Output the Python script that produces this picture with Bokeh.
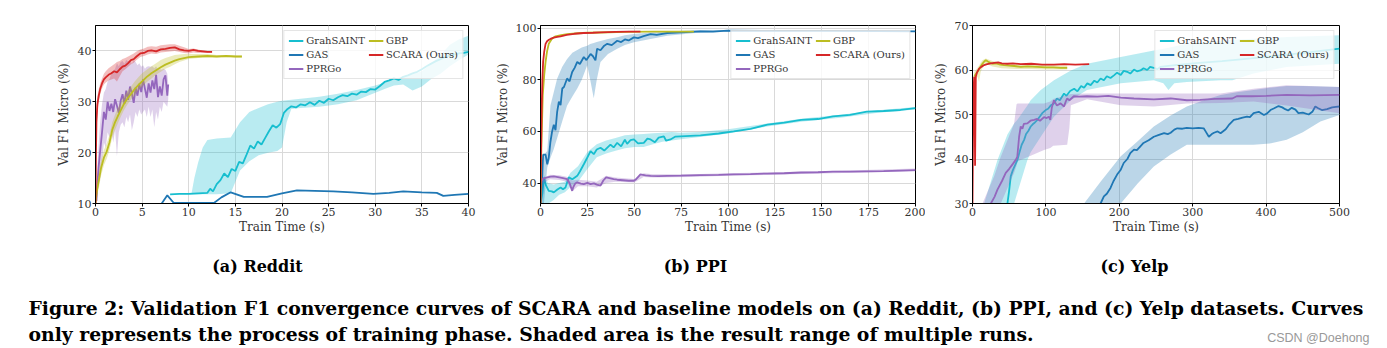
from bokeh.plotting import figure
from bokeh.layouts import column, row
from bokeh.models import Range1d, Legend, LegendItem, FixedTicker
from bokeh.embed import file_html
from bokeh.resources import INLINE
from bokeh.core.properties import value

NAMES = ["GrahSAINT", "GAS", "PPRGo", "GBP", "SCARA (Ours)"]
COLORS = ["#17becf", "#1f77b4", "#9467bd", "#bcbd22", "#d62728"]

# ---------------- Reddit ----------------
rd_grah_x = [8.0, 9.0, 10.0, 11.0, 12.0, 12.3, 12.6, 13.0, 13.4, 13.8, 14.2, 14.6, 15.0, 15.4, 15.8, 16.2, 16.6, 17.0, 17.4, 17.8, 18.2, 18.6, 19.0, 19.4, 19.8, 20.2, 20.6, 21.0, 21.5, 22.0, 22.5, 23.0, 23.5, 24.0, 24.5, 25.0, 25.5, 26.0, 26.5, 27.0, 27.5, 28.0, 28.5, 29.0, 29.5, 30.0, 30.5, 31.0, 31.5, 32.0, 32.5, 33.0, 33.5, 34.0, 34.5, 35.0, 35.5, 36.0, 36.5, 37.0, 37.5, 38.0, 38.5, 39.0, 39.5, 40.0]
rd_grah_y = [11.8, 11.9, 11.9, 12.0, 12.1, 12.9, 12.4, 13.8, 14.6, 15.9, 15.2, 16.8, 16.4, 18.2, 17.9, 19.6, 21.4, 20.8, 22.2, 21.6, 22.9, 24.2, 25.4, 24.9, 25.6, 27.8, 28.6, 29.1, 28.9, 29.5, 29.3, 29.9, 29.4, 30.2, 29.8, 30.6, 30.3, 30.9, 31.3, 31.1, 31.6, 31.4, 32.0, 31.9, 32.5, 32.4, 33.1, 33.9, 34.2, 34.6, 34.3, 34.9, 35.2, 35.6, 35.9, 36.4, 37.0, 37.5, 38.0, 38.4, 38.8, 39.1, 39.3, 39.5, 39.6, 39.8]
rd_grah_bx = [8.0, 10.3, 10.6, 11.0, 11.5, 12.0, 13.0, 14.5, 15.5, 16.5, 17.5, 18.5, 19.5, 20.0, 20.5, 21.0, 22.0, 24.0, 26.0, 28.0, 30.0, 31.0, 32.0, 33.0, 34.0, 35.0, 36.0, 37.0, 38.0, 39.0, 40.0]
rd_grah_lo = [11.8, 11.8, 11.8, 11.8, 11.8, 11.8, 11.8, 12.0, 16.5, 18.3, 19.5, 20.0, 20.3, 21.0, 26.0, 28.6, 28.8, 29.0, 29.5, 30.3, 31.8, 32.5, 33.2, 33.4, 32.2, 33.0, 34.5, 35.5, 37.0, 38.2, 39.3]
rd_grah_hi = [11.8, 12.0, 15.0, 18.0, 21.0, 22.5, 22.8, 23.0, 26.0, 28.0, 28.8, 29.5, 30.0, 30.2, 30.3, 30.4, 30.6, 31.0, 31.6, 32.3, 33.2, 33.8, 34.5, 35.0, 35.4, 36.0, 37.5, 39.2, 41.2, 42.3, 43.0]

rd_gas_x = [7.1, 7.7, 8.4, 10.0, 12.7, 13.5, 14.5, 15.9, 17.0, 18.4, 20.0, 21.6, 23.5, 25.5, 27.5, 29.8, 31.5, 33.0, 35.0, 36.6, 37.3, 38.5, 40.0]
rd_gas_y = [10.0, 11.6, 10.1, 10.1, 10.1, 11.2, 12.2, 11.3, 11.3, 11.3, 12.0, 12.6, 12.5, 12.4, 12.2, 11.9, 12.1, 12.4, 12.2, 12.1, 11.5, 11.7, 11.9]

rd_ppr_x = [0.1, 0.2, 0.35, 0.5, 0.7, 0.9, 1.1, 1.3, 1.5, 1.7, 1.9, 2.1, 2.3, 2.5, 2.7, 2.9, 3.1, 3.3, 3.5, 3.7, 3.9, 4.1, 4.3, 4.5, 4.7, 4.9, 5.1, 5.3, 5.5, 5.7, 5.9, 6.1, 6.3, 6.5, 6.7, 6.9, 7.1, 7.3, 7.5, 7.7, 7.8]
rd_ppr_y = [10.5, 13.8, 17.5, 20.3, 24.0, 28.0, 26.5, 30.0, 28.2, 29.6, 28.0, 30.5, 29.2, 27.8, 30.2, 31.5, 29.6, 32.2, 30.4, 33.0, 31.6, 29.8, 32.8, 31.2, 33.5, 31.9, 34.4, 32.6, 30.8, 33.6, 31.8, 34.2, 32.5, 35.3, 30.9, 33.0, 31.2, 34.4, 35.2, 31.2, 33.4]
rd_ppr_lo = [10.0, 12.0, 14.0, 15.0, 18.0, 22.0, 21.0, 24.0, 23.0, 24.5, 22.0, 24.5, 19.3, 24.0, 25.5, 26.0, 25.0, 27.0, 26.0, 27.5, 24.4, 26.0, 28.0, 27.0, 28.5, 27.5, 28.0, 28.5, 27.0, 29.0, 27.0, 28.5, 25.0, 28.0, 26.5, 29.0, 28.0, 30.0, 29.5, 29.0, 30.5]
rd_ppr_hi = [12.0, 17.0, 22.0, 26.0, 29.5, 31.8, 32.5, 34.0, 34.5, 35.5, 36.0, 36.5, 37.6, 37.0, 37.8, 38.0, 37.5, 38.2, 37.9, 38.0, 37.5, 38.2, 37.8, 37.2, 37.6, 36.9, 37.2, 36.5, 36.9, 37.0, 36.9, 37.0, 36.6, 37.0, 36.3, 36.4, 36.3, 36.5, 36.3, 35.5, 33.7]

rd_gbp_x = [0.0, 0.15, 0.35, 0.6, 0.9, 1.2, 1.5, 1.8, 2.1, 2.4, 2.7, 3.0, 3.4, 3.8, 4.2, 4.6, 5.0, 5.5, 6.0, 6.5, 7.0, 7.5, 8.0, 8.5, 9.0, 9.5, 10.0, 11.0, 12.0, 13.0, 14.0, 15.0, 15.7]
rd_gbp_y = [10.0, 12.5, 14.5, 17.0, 19.0, 20.2, 22.0, 24.5, 26.0, 27.2, 28.3, 29.4, 30.6, 31.5, 32.5, 33.3, 34.0, 34.9, 35.6, 36.2, 36.8, 37.3, 37.7, 38.1, 38.4, 38.6, 38.8, 38.9, 39.0, 38.9, 39.0, 38.9, 38.9]
rd_gbp_lo = [10.0, 11.5, 13.0, 15.5, 17.5, 18.8, 20.5, 23.0, 24.5, 25.8, 27.0, 28.2, 29.4, 30.4, 31.4, 32.3, 33.0, 33.9, 34.6, 35.3, 35.9, 36.5, 36.9, 37.4, 37.8, 38.1, 38.4, 38.6, 38.7, 38.7, 38.8, 38.7, 38.7]
rd_gbp_hi = [10.0, 13.5, 16.0, 18.5, 20.5, 21.8, 23.5, 26.0, 27.5, 28.8, 29.8, 30.8, 32.0, 33.0, 34.0, 34.8, 35.6, 36.3, 37.0, 37.6, 38.2, 38.6, 38.9, 39.2, 39.3, 39.4, 39.4, 39.4, 39.4, 39.2, 39.2, 39.1, 39.1]

rd_scara_x = [0.0, 0.05, 0.1, 0.2, 0.35, 0.5, 0.7, 0.9, 1.1, 1.4, 1.7, 2.0, 2.3, 2.6, 2.9, 3.2, 3.5, 3.8, 4.1, 4.4, 4.8, 5.2, 5.6, 6.0, 6.5, 7.0, 7.5, 8.0, 8.5, 9.0, 9.5, 10.0, 10.5, 11.0, 11.5, 12.0, 12.5]
rd_scara_y = [10.0, 20.0, 26.0, 29.5, 31.2, 32.5, 33.6, 34.4, 34.8, 35.3, 35.6, 36.0, 35.8, 36.4, 36.9, 37.1, 37.6, 38.2, 38.4, 38.9, 39.5, 39.6, 40.0, 40.1, 39.9, 40.3, 40.4, 40.6, 40.7, 40.3, 40.1, 40.0, 40.2, 40.0, 39.9, 39.8, 39.8]
rd_scara_lo = [10.0, 18.0, 24.0, 28.0, 30.0, 31.5, 32.6, 33.4, 33.8, 34.2, 34.4, 34.6, 34.0, 35.0, 36.0, 36.4, 36.9, 37.4, 37.7, 38.2, 38.8, 39.0, 39.3, 39.5, 39.4, 39.7, 39.8, 39.9, 40.0, 39.8, 39.6, 39.5, 39.7, 39.6, 39.6, 39.6, 39.6]
rd_scara_hi = [10.0, 22.0, 28.0, 31.0, 32.5, 33.6, 34.6, 35.5, 36.0, 36.6, 37.0, 37.4, 37.8, 38.0, 38.4, 38.6, 38.9, 39.2, 39.5, 39.9, 40.3, 40.5, 40.8, 40.9, 40.8, 41.1, 41.2, 41.3, 41.3, 41.0, 40.7, 40.4, 40.5, 40.3, 40.1, 40.0, 40.0]

# ---------------- PPI ----------------
pp_grah_x = [0, 1, 1.8, 3, 4.4, 6, 7.1, 9, 10.7, 12, 13.3, 15.1, 17, 19.6, 21, 23.1, 24.9, 26.7, 28.4, 30, 32, 34, 37.3, 39, 40.9, 43, 45, 46.2, 48, 49.8, 52, 55.1, 57, 58.7, 61, 63, 65.8, 67, 69.3, 72, 74.7, 80, 85.3, 95, 103, 112, 121, 130, 139, 148, 156, 165, 174, 183, 192, 200]
pp_grah_y = [32, 36, 42, 39, 37, 36.8, 36.4, 37.5, 38.3, 37.6, 38.3, 42.2, 41.5, 42.8, 44.5, 47.3, 49.8, 52.4, 51.2, 53.0, 53.7, 52.6, 54.9, 53.8, 55.6, 54.2, 56.8, 55.2, 56.6, 56.9, 55.4, 55.6, 57.2, 56.9, 55.8, 57.6, 58.1, 56.4, 56.9, 58.0, 58.1, 58.3, 58.5, 59.2, 60.0, 61.0, 62.6, 63.4, 64.5, 64.8, 65.8, 66.4, 67.7, 67.9, 68.3, 69.0]
pp_grah_bx = [0, 2, 4, 7, 10, 13, 16, 20, 25, 30, 35, 40, 45, 50, 55, 60, 65, 70, 75, 85, 100, 120, 140, 160, 180, 200]
pp_grah_lo = [32, 32, 32, 33.5, 35.5, 36.5, 38.5, 40.5, 45.5, 50.0, 51.5, 52.5, 53.5, 54.0, 54.0, 55.0, 56.0, 56.5, 57.0, 57.8, 59.2, 61.8, 63.8, 65.3, 67.2, 68.5]
pp_grah_hi = [32, 43, 40, 39.5, 40.0, 40.5, 44.0, 46.5, 52.0, 55.0, 56.5, 57.5, 58.5, 58.8, 59.0, 59.3, 59.5, 59.8, 59.5, 59.8, 60.8, 63.0, 65.0, 66.5, 68.2, 69.5]

pp_gas_x = [0, 0.8, 1.4, 2.7, 3.6, 4.4, 5.3, 6.2, 7.1, 8.0, 8.9, 9.8, 10.7, 11.6, 12.5, 14.2, 15.5, 16.9, 18.2, 19.6, 21, 23.1, 24.5, 26.7, 28, 29.3, 30.2, 32, 34, 35.6, 38, 40.9, 43, 45, 47, 49.8, 52, 55, 58.7, 62, 67.6, 75, 85.3, 92, 99.6, 120, 150, 180, 200]
pp_gas_y = [32, 40, 51, 51, 47.3, 49.8, 56, 60, 62.6, 60.5, 67.7, 71.5, 70.2, 76.6, 77.2, 80.5, 79.4, 83, 84.6, 86.9, 86.1, 88.8, 87.6, 90, 89.1, 87.5, 92, 91.4, 93.2, 93.9, 93.4, 95.1, 94.6, 95.6, 95.2, 96.4, 96.1, 96.9, 97.7, 97.4, 98.1, 98.3, 98.7, 98.6, 99.0, 98.9, 98.9, 98.8, 98.7]
pp_gas_bx = [0.8, 1.8, 3.6, 5.3, 7, 8.9, 11.6, 14.2, 17, 19.6, 22, 24.9, 26.5, 28.4, 30, 32, 36, 40.9, 45, 49.8, 58.7, 67.6, 85.3, 100, 150, 200]
pp_gas_lo = [32, 32, 46, 49.8, 53, 57.5, 63.9, 70, 73.5, 76.6, 80, 85.6, 80, 72.8, 80, 86.9, 90, 92, 93.5, 94.5, 95.8, 97, 98.3, 98.6, 98.7, 98.6]
pp_gas_hi = [34, 51, 52.4, 70, 75, 80.5, 85, 88, 90.5, 91.5, 92.5, 93.2, 93.8, 94.2, 94.6, 95, 95.8, 96.5, 97.2, 97.7, 98.3, 98.7, 99.3, 99.3, 99.2, 99.0]

pp_ppr_x = [0, 1.5, 3.6, 5.5, 7.1, 10, 12, 14.2, 15.5, 16.9, 17.5, 18.5, 19.6, 21.5, 23.1, 25, 26.7, 28.5, 30, 32, 33.5, 35, 37.3, 39, 40.9, 44, 47, 49.8, 51, 53.3, 56, 58.7, 63, 67.6, 75, 85.3, 95, 103, 112, 121, 130, 139, 148, 156, 165, 174, 183, 192, 200]
pp_ppr_y = [40.3, 41.8, 42.2, 42.5, 42.6, 42.2, 41.9, 41.5, 40.0, 37.0, 38.5, 39.8, 40.3, 39.8, 39.6, 40.1, 39.6, 39.9, 39.4, 39.0, 41.0, 42.2, 41.8, 41.5, 41.3, 41.1, 40.9, 40.9, 41.5, 43.4, 43.0, 42.8, 42.7, 42.8, 42.9, 43.1, 43.2, 43.4, 43.5, 43.7, 43.8, 44.1, 44.2, 44.4, 44.4, 44.5, 44.6, 44.8, 45.0]
pp_ppr_bx = [0, 5, 10, 14, 17, 20, 25, 30, 35, 40, 50, 55, 60, 80, 100, 150, 200]
pp_ppr_lo = [39.5, 41.5, 41.2, 40.5, 36.8, 38.8, 38.8, 38.3, 40.0, 40.5, 40.2, 42.4, 42.2, 42.4, 42.8, 43.7, 44.6]
pp_ppr_hi = [41.0, 43.2, 43.0, 42.5, 41.0, 41.3, 41.0, 40.5, 42.8, 42.2, 41.6, 43.8, 43.4, 43.4, 43.8, 44.6, 45.6]

pp_gbp_x = [0, 0.5, 1.2, 2.0, 2.7, 3.5, 4.4, 6, 8, 11, 14.2, 20, 25, 32, 45, 60, 70, 81.8]
pp_gbp_y = [32, 55, 74, 82, 86.9, 91, 93.9, 95.8, 96.8, 97.3, 97.7, 98.0, 98.2, 98.3, 98.5, 98.6, 98.6, 98.6]

pp_scara_x = [0, 0.3, 0.6, 1.0, 1.4, 2.0, 2.7, 3.5, 4.5, 5.3, 7, 9, 10.7, 14, 18, 23.1, 28, 32, 40, 47, 53.3]
pp_scara_y = [32, 52, 68, 80, 87, 91, 93.9, 94.9, 95.5, 95.8, 96.3, 96.6, 96.8, 97.4, 97.8, 98.1, 98.2, 98.3, 98.5, 98.6, 98.6]

# ---------------- Yelp ----------------
yl_grah_x = [47.6, 50, 52.1, 55, 58, 61.2, 64, 67, 70.3, 73, 76, 79.3, 82, 85, 88.4, 92, 95, 99.7, 103, 107, 111, 115, 119, 124.7, 128, 133, 138.5, 143, 148, 152, 156.4, 161, 166, 170, 174.5, 179, 183, 188, 192.7, 197, 202, 206, 210.8, 215, 220, 224, 228.9, 233, 238, 242, 247, 252, 256, 270, 300, 340, 380, 420, 460, 500]
yl_grah_y = [30, 33, 36.1, 37.5, 38.6, 39.8, 41.5, 43.2, 44.3, 45.6, 46.3, 47.3, 47.8, 48.2, 48.8, 49.6, 50.3, 51.0, 51.3, 52.1, 52.5, 53.6, 53.2, 54.7, 54.2, 55.3, 55.8, 55.2, 56.4, 56.0, 57.0, 56.6, 57.6, 57.2, 58.1, 57.7, 58.6, 58.2, 58.8, 59.4, 58.9, 59.8, 59.6, 59.2, 60.1, 59.7, 59.9, 60.4, 60.0, 60.7, 60.5, 60.2, 60.7, 61.0, 61.5, 62.0, 62.6, 63.3, 64.0, 64.8]
yl_grah_bx = [15.9, 34, 47.6, 56.7, 61.2, 74.8, 79.3, 93, 111, 134, 156, 202, 247, 260, 267, 275, 292, 338, 354, 383, 428, 500]
yl_grah_lo = [30, 30, 30, 30, 32.5, 39.8, 41.5, 45, 49.5, 53.2, 55.5, 57, 57.7, 57.0, 55.5, 57.0, 57.3, 57.7, 57.7, 59.2, 60.7, 61.4]
yl_grah_hi = [30, 39.8, 45.5, 48.0, 48.8, 52.0, 53.2, 55.5, 57.7, 59.9, 61.4, 62.9, 64.4, 64.8, 65.0, 65.3, 65.9, 66.6, 66.8, 67.0, 67.4, 67.8]

yl_gas_x = [174.5, 179, 183, 188, 192, 197, 202, 206, 211, 215, 220, 224, 229, 233, 240, 247, 254, 261, 266, 270, 275, 279, 286, 292, 300, 308, 315, 318, 322, 326, 329, 334, 338, 345, 350, 356, 362, 368, 374, 378, 383, 390, 397, 401, 406, 411, 417, 422, 426, 430, 435, 440, 444, 450, 458, 463, 467, 471, 476, 483, 490, 495, 500]
yl_gas_y = [30, 31.6, 32.2, 33.5, 35.0, 36.5, 37.6, 39.1, 40.0, 41.3, 42.1, 42.0, 42.9, 43.6, 44.2, 45.0, 45.4, 45.8, 45.6, 45.9, 46.6, 46.9, 46.8, 47.0, 46.9, 47.0, 46.9, 46.1, 45.0, 45.6, 45.9, 46.2, 45.8, 46.7, 47.8, 48.8, 49.0, 49.3, 49.5, 49.4, 50.3, 50.6, 49.9, 50.2, 51.0, 51.4, 51.9, 51.6, 51.2, 50.9, 51.5, 51.1, 50.3, 50.4, 50.0, 50.6, 51.8, 51.4, 51.0, 51.2, 51.6, 51.7, 51.8]
yl_gas_bx = [152, 175, 202, 225, 247, 270, 292, 315, 338, 360, 383, 405, 428, 450, 474, 500]
yl_gas_lo = [30, 30, 30, 34.5, 38.3, 41.0, 43.2, 43.2, 43.2, 43.2, 43.2, 43.5, 44.3, 46.0, 48.4, 49.9]
yl_gas_hi = [30, 35.0, 40.6, 44.0, 47.3, 49.8, 51.8, 53.2, 54.4, 55.0, 55.5, 56.0, 56.4, 56.4, 56.3, 56.2]

yl_ppr_x = [25, 30, 34, 40, 45.3, 50, 55, 58.9, 61, 63.5, 65.7, 68, 70, 74.8, 79, 83.9, 88, 92, 97.5, 101, 104, 106, 108, 111, 115, 120, 124.7, 127, 129, 132, 138, 145, 156, 170, 185, 202, 220, 247, 270, 292, 310, 330, 354, 360, 380, 400, 428, 460, 500]
yl_ppr_y = [30, 31.5, 33.1, 35.0, 36.9, 37.8, 38.9, 39.8, 40.5, 45.0, 47.3, 46.8, 47.9, 48.0, 48.6, 48.8, 49.0, 48.6, 49.4, 49.2, 49.5, 48.8, 51.5, 53.2, 52.0, 52.5, 51.8, 52.9, 53.6, 53.2, 54.1, 54.0, 54.1, 54.0, 54.2, 53.8, 53.6, 53.4, 53.6, 53.2, 53.3, 53.5, 53.6, 54.1, 54.1, 54.2, 54.4, 54.3, 54.4]
yl_ppr_bx = [13.6, 29.5, 38.5, 56.7, 60, 61.5, 65.7, 97.5, 106, 110, 129, 132, 134, 156, 202, 247, 292, 338, 383, 428, 500]
yl_ppr_lo = [30, 30, 30, 36.9, 38.5, 39.5, 39.8, 42.0, 42.5, 43.0, 43.2, 47.0, 52.1, 53.4, 52.1, 51.8, 52.5, 52.6, 52.9, 52.0, 50.3]
yl_ppr_hi = [30, 36.1, 40.5, 48.0, 52.3, 52.5, 52.5, 52.5, 52.9, 53.5, 54.4, 54.5, 54.6, 54.7, 54.7, 54.7, 54.7, 54.7, 55.8, 56.6, 56.2]

yl_gbp_x = [2.3, 4, 6.8, 9, 11, 13.6, 16, 18.1, 21, 24, 27.2, 32, 38, 43, 50, 57, 65.7, 75, 88.4, 100, 110, 120, 129]
yl_gbp_y = [58.5, 59.0, 59.6, 60.2, 60.8, 61.4, 61.9, 62.2, 61.9, 61.6, 61.4, 61.5, 61.2, 61.1, 61.0, 60.9, 60.7, 60.8, 60.7, 60.6, 60.6, 60.5, 60.5]
yl_gbp_bx = [2.3, 6.8, 9, 11, 13.6, 18.1, 27.2, 40, 60, 80, 100, 129]
yl_gbp_lo = [57.5, 58.5, 57.3, 59.5, 60.5, 61.4, 60.8, 60.4, 60.2, 60.2, 60.1, 60.1]
yl_gbp_hi = [59.5, 60.5, 61.0, 61.6, 62.2, 62.6, 62.0, 61.6, 61.3, 61.2, 61.1, 61.0]

yl_scara_x = [0, 0.7, 1.4, 2.3, 3.0, 3.5, 4.0, 4.5, 6, 9, 12, 15.9, 20, 25, 29.5, 35, 40, 47.6, 55, 65.7, 80, 95, 111, 125, 140, 159]
yl_scara_y = [30, 45, 55.5, 58.5, 50, 38.5, 48, 58.5, 59.4, 60.3, 60.7, 61.1, 61.3, 61.5, 61.6, 61.7, 61.5, 61.4, 61.5, 61.3, 61.4, 61.2, 61.2, 61.3, 61.2, 61.3]

# axis ticks
rd_xticks = [0, 5, 10, 15, 20, 25, 30, 35, 40]
rd_yticks = [10, 20, 30, 40]
pp_xticks = [0, 25, 50, 75, 100, 125, 150, 175, 200]
pp_yticks = [40, 60, 80, 100]
yl_xticks = [0, 100, 200, 300, 400, 500]
yl_yticks = [30, 40, 50, 60, 70]

SUBTITLES = ["(a) Reddit", "(b) PPI", "(c) Yelp"]
CAPTION = ["Figure 2: Validation F1 convergence curves of SCARA and baseline models on (a) Reddit, (b) PPI, and (c) Yelp datasets. Curves",
           "only represents the process of training phase. Shaded area is the result range of multiple runs."]

SERIF = "DejaVu Serif"


def panel(xr, yr, xt, yt, width, bl, br, bt, bb, series, ylab_standoff):
    p = figure(width=width, height=250, x_range=Range1d(*xr), y_range=Range1d(*yr),
               output_backend="svg", toolbar_location=None,
               min_border_left=bl, min_border_right=br, min_border_top=bt, min_border_bottom=bb)
    p.xaxis.ticker = FixedTicker(ticks=xt)
    p.yaxis.ticker = FixedTicker(ticks=yt)
    p.xaxis.axis_label = "Train Time (s)"
    p.yaxis.axis_label = "Val F1 Micro (%)"
    for ax in (p.xaxis[0], p.yaxis[0]):
        ax.major_label_text_font = SERIF
        ax.major_label_text_font_size = "11px"
        ax.major_label_text_color = "#333333"
        ax.axis_label_text_font = SERIF
        ax.axis_label_text_font_style = "normal"
        ax.axis_label_text_font_size = "12px"
        ax.axis_label_text_color = "#333333"
        ax.minor_tick_line_color = None
        ax.major_tick_in = 0
        ax.major_tick_out = 3
        ax.axis_line_color = "black"
        ax.major_tick_line_color = "black"
        ax.major_label_standoff = 1
    p.xaxis.axis_label_standoff = 1
    p.yaxis.axis_label_standoff = ylab_standoff
    p.grid.grid_line_color = "#d9d9d9"
    p.grid.grid_line_width = 1
    p.outline_line_color = "black"
    p.outline_line_alpha = 1
    p.outline_line_width = 1
    items = []
    for name, color, x, y, bx, lo, hi in series:
        if bx is not None:
            p.varea(x=bx, y1=lo, y2=hi, fill_color=color, fill_alpha=0.3)
        r = p.line(x, y, line_color=color, line_width=1.8)
        items.append(LegendItem(label=name, renderers=[r]))
    leg = Legend(items=items, ncols=2, location="top_right",
                 label_text_font=SERIF, label_text_font_size="10px", label_text_color="#333333",
                 label_height=11, glyph_height=11, glyph_width=15, label_standoff=3,
                 spacing=3, padding=4, margin=5,
                 border_line_color="#cccccc", border_line_width=1,
                 background_fill_alpha=0.8)
    p.add_layout(leg)
    return p


rd_series = [
    (NAMES[0], COLORS[0], rd_grah_x, rd_grah_y, rd_grah_bx, rd_grah_lo, rd_grah_hi),
    (NAMES[1], COLORS[1], rd_gas_x, rd_gas_y, None, None, None),
    (NAMES[2], COLORS[2], rd_ppr_x, rd_ppr_y, rd_ppr_x, rd_ppr_lo, rd_ppr_hi),
    (NAMES[3], COLORS[3], rd_gbp_x, rd_gbp_y, rd_gbp_x, rd_gbp_lo, rd_gbp_hi),
    (NAMES[4], COLORS[4], rd_scara_x, rd_scara_y, rd_scara_x, rd_scara_lo, rd_scara_hi),
]
pp_series = [
    (NAMES[0], COLORS[0], pp_grah_x, pp_grah_y, pp_grah_bx, pp_grah_lo, pp_grah_hi),
    (NAMES[1], COLORS[1], pp_gas_x, pp_gas_y, pp_gas_bx, pp_gas_lo, pp_gas_hi),
    (NAMES[2], COLORS[2], pp_ppr_x, pp_ppr_y, pp_ppr_bx, pp_ppr_lo, pp_ppr_hi),
    (NAMES[3], COLORS[3], pp_gbp_x, pp_gbp_y, None, None, None),
    (NAMES[4], COLORS[4], pp_scara_x, pp_scara_y, None, None, None),
]
yl_series = [
    (NAMES[0], COLORS[0], yl_grah_x, yl_grah_y, yl_grah_bx, yl_grah_lo, yl_grah_hi),
    (NAMES[1], COLORS[1], yl_gas_x, yl_gas_y, yl_gas_bx, yl_gas_lo, yl_gas_hi),
    (NAMES[2], COLORS[2], yl_ppr_x, yl_ppr_y, yl_ppr_bx, yl_ppr_lo, yl_ppr_hi),
    (NAMES[3], COLORS[3], yl_gbp_x, yl_gbp_y, yl_gbp_bx, yl_gbp_lo, yl_gbp_hi),
    (NAMES[4], COLORS[4], yl_scara_x, yl_scara_y, None, None, None),
]

p1 = panel((0, 40), (10, 45), rd_xticks, rd_yticks, 480, 95, 12, 21, 47, rd_series, 4)
p2 = panel((0, 200), (32.1, 101.0), pp_xticks, pp_yticks, 445, 60, 10, 23, 47, pp_series, 3)
p3 = panel((0, 500), (30, 70), yl_xticks, yl_yticks, 462, 47, 48, 25, 46, yl_series, 4)

cap = figure(width=1387, height=98, x_range=Range1d(0, 1387), y_range=Range1d(98, 0),
             output_backend="svg", toolbar_location=None, min_border=0,
             x_axis_location=None, y_axis_location=None)
cap.grid.visible = False
cap.outline_line_color = None
cap.text(x=[257, 695, 1134], y=[16, 16, 16], text=SUBTITLES,
         text_font=value(SERIF), text_font_style="bold", text_font_size="16px",
         text_align="center", text_baseline="middle", text_color="black")
cap.text(x=[28, 28], y=[57, 83], text=CAPTION,
         text_font=value(SERIF), text_font_style="bold", text_font_size="18.8px",
         text_align="left", text_baseline="alphabetic", text_color="black")
cap.text(x=[1369], y=[87], text=["CSDN @Doehong"],
         text_font=value("Liberation Sans"), text_font_size="12.5px",
         text_align="right", text_baseline="alphabetic", text_color="#999999")

layout = column(row(p1, p2, p3), cap)
open("out.html", "w").write(file_html(layout, INLINE))
